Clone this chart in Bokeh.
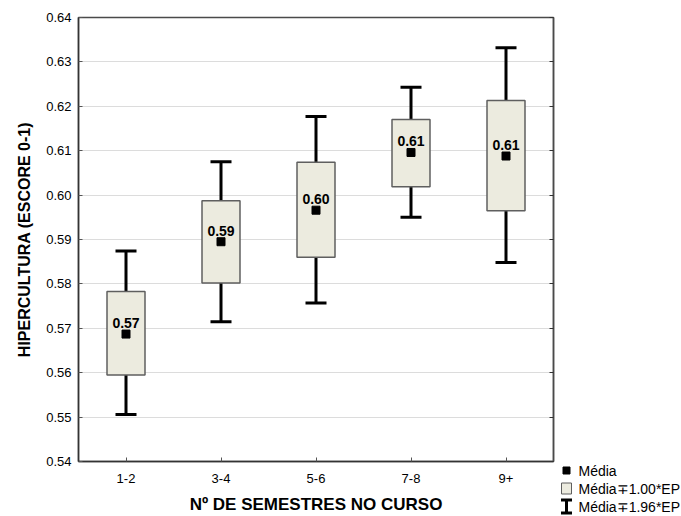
from bokeh.plotting import figure
from bokeh.models import (ColumnDataSource, Range1d, FactorRange, FixedTicker,
                          NumeralTickFormatter, LinearAxis, Spacer)
from bokeh.layouts import row, column
from bokeh.embed import file_html
from bokeh.resources import INLINE
from bokeh.core.properties import value

categories = ["1-2", "3-4", "5-6", "7-8", "9+"]
mean = [0.5687, 0.5895, 0.5966, 0.6096, 0.6088]
se_low = [0.5595, 0.5802, 0.5860, 0.6019, 0.5965]
se_high = [0.5783, 0.5987, 0.6074, 0.6170, 0.6213]
ci_low = [0.5506, 0.5715, 0.5757, 0.5950, 0.5848]
ci_high = [0.5874, 0.6075, 0.6177, 0.6243, 0.6332]
y_ticks = [0.54, 0.55, 0.56, 0.57, 0.58, 0.59, 0.60, 0.61, 0.62, 0.63, 0.64]
legend_labels = ["Média", "Média∓1.00*EP", "Média∓1.96*EP"]

FONT = "Liberation Sans"
BOX_FILL = "#ECEBDF"
BOX_LINE = "#5f5f5f"

src = ColumnDataSource(dict(
    cat=categories, mean=mean, se_low=se_low, se_high=se_high,
    ci_low=ci_low, ci_high=ci_high,
    label=[f"{m:.2f}" for m in mean],
))

p = figure(width=559, height=516, x_range=FactorRange(*categories),
           y_range=Range1d(y_ticks[0], y_ticks[-1]),
           output_backend="svg", toolbar_location=None,
           min_border_left=78, min_border_right=6,
           min_border_top=17, min_border_bottom=53)
p.background_fill_color = "white"
p.border_fill_color = "white"
p.outline_line_color = "#4a4a4a"
p.outline_line_width = 1.5

p.xgrid.grid_line_color = None
p.ygrid.grid_line_color = "#dcdcdc"
p.ygrid.grid_line_width = 1

# whisker stems (mean +/- 1.96 SE)
stem_r = p.segment(x0="cat", y0="ci_low", x1="cat", y1="ci_high", source=src,
                   line_color="black", line_width=3)
# boxes (mean +/- 1 SE)
box_r = p.vbar(x="cat", width=0.4, bottom="se_low", top="se_high", source=src,
               fill_color=BOX_FILL, line_color=BOX_LINE, line_width=1.5)
# caps
p.scatter(x="cat", y="ci_high", source=src, marker="dash", size=21,
          line_color="black", line_width=3)
p.scatter(x="cat", y="ci_low", source=src, marker="dash", size=21,
          line_color="black", line_width=3)
# mean markers
mean_r = p.scatter(x="cat", y="mean", source=src, marker="square", size=8,
                   fill_color="black", line_color="black")
# value labels
p.text(x="cat", y="mean", text="label", source=src, y_offset=-11,
       text_align="center", text_baseline="middle",
       text_font=value(FONT), text_font_style="bold", text_font_size="14px",
       text_color="black")

# axes
p.yaxis.ticker = FixedTicker(ticks=y_ticks)
p.yaxis.formatter = NumeralTickFormatter(format="0.00")
for ax in (p.xaxis[0], p.yaxis[0]):
    ax.axis_line_color = "#333333"
    ax.axis_line_width = 1.5
    ax.major_tick_in = 4
    ax.major_tick_out = 0
    ax.minor_tick_line_color = None
    ax.major_tick_line_color = "#555555"
    ax.major_label_text_font = FONT
    ax.major_label_text_font_size = "13px"
    ax.major_label_text_color = "black"
    ax.axis_label_text_font = FONT
    ax.axis_label_text_font_style = "bold"
    ax.axis_label_text_color = "black"
p.yaxis.axis_label = "HIPERCULTURA (ESCORE 0-1)"
p.xaxis.axis_label = "Nº DE SEMESTRES NO CURSO"
p.yaxis.axis_label_text_font_size = "16px"
p.xaxis.axis_label_text_font_size = "17px"
p.xaxis.axis_label_text_line_height = 1.0
p.yaxis.major_label_standoff = 7
p.xaxis.major_label_standoff = 12
p.yaxis.axis_label_standoff = 10
p.xaxis.axis_label_standoff = 9

right = LinearAxis(ticker=FixedTicker(ticks=y_ticks))
right.major_tick_in = 4
right.major_tick_out = 0
right.minor_tick_line_color = None
right.major_tick_line_color = "#333333"
right.axis_line_color = "#4a4a4a"
right.axis_line_width = 1.5
right.major_label_text_font_size = "0px"
right.major_label_text_color = None
right.major_label_standoff = 0
p.add_layout(right, "right")

# ---- legend panel (bottom right, outside the plot frame) ----
LW, LH = 122, 58
leg = figure(width=LW, height=LH, x_range=Range1d(0, LW), y_range=Range1d(LH, 0),
             output_backend="svg", toolbar_location=None, min_border=0)
leg.axis.visible = False
leg.grid.visible = False
leg.outline_line_color = None
leg.background_fill_color = "white"
leg.border_fill_color = "white"

row_y = [12 + 18 * i for i in range(len(legend_labels))]
icon_x = 7
# "Média" key: black square
leg.scatter(x=[icon_x], y=[row_y[0]], marker="square", size=7,
            fill_color="black", line_color="black")
# "Média∓1.00*EP" key: box swatch
leg.rect(x=[icon_x], y=[row_y[1]], width=10, height=11,
         fill_color=BOX_FILL, line_color=BOX_LINE, line_width=1)
# "Média∓1.96*EP" key: whisker I-beam
yt, yb = row_y[2] - 6.5, row_y[2] + 6.5
leg.segment(x0=[icon_x, icon_x - 5.5, icon_x - 5.5], y0=[yt, yt, yb],
            x1=[icon_x, icon_x + 5.5, icon_x + 5.5], y1=[yb, yt, yb],
            line_color="black", line_width=3)
leg.text(x=[19] * len(legend_labels), y=row_y, text=legend_labels,
         text_align="left", text_baseline="middle",
         text_font=value(FONT), text_font_size="14px", text_color="black")

layout = row(p, column(Spacer(width=LW, height=516 - LH), leg))

open("out.html", "w").write(file_html(layout, INLINE))
